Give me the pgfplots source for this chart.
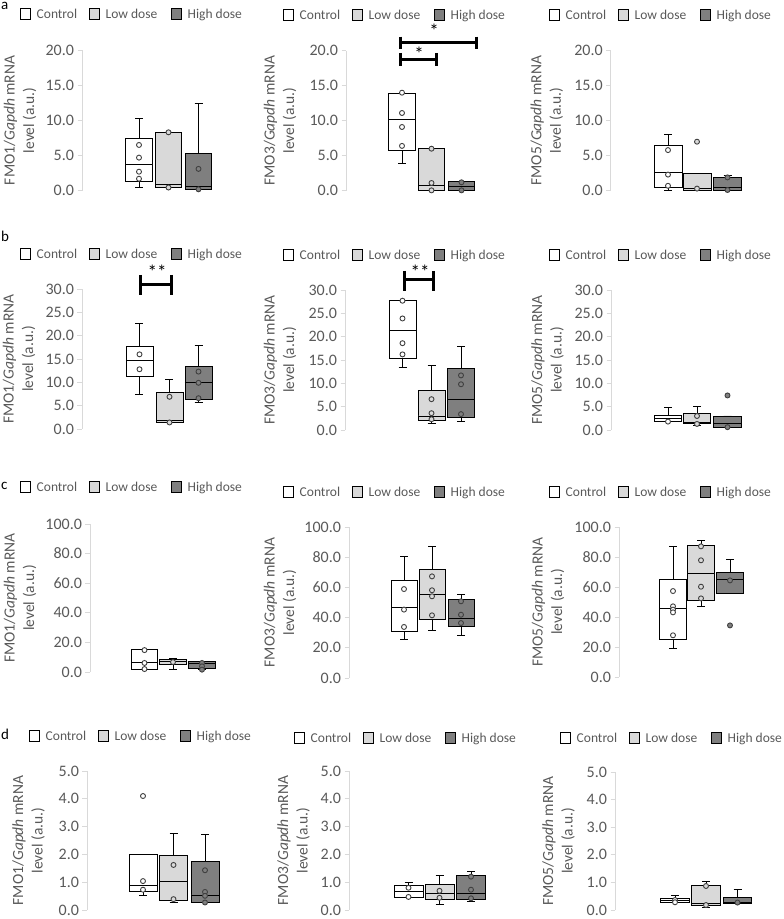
\documentclass[border=0pt]{standalone}
\usepackage{fontspec}
\setmainfont{Carlito}
\usepackage{pgfplots}
\pgfplotsset{compat=1.18}
\usepgfplotslibrary{statistics}

\definecolor{txt}{HTML}{595959}
\definecolor{axc}{HTML}{D9D9D9}
\definecolor{lowc}{HTML}{D9D9D9}
\definecolor{highc}{HTML}{7F7F7F}
\definecolor{ptc}{HTML}{404040}

\newcommand\tickfont{\fontsize{16}{18}\selectfont}
\newcommand\labfont{\fontsize{15.5}{19.5}\selectfont}
\newcommand\legfont{\fontsize{13.5}{15}\selectfont}
\newcommand\yl[1]{FMO#1/\textit{Gapdh} mRNA\\level (a.u.)}

\pgfplotsset{
 panel/.style={
  scale only axis, width=180pt, clip=false, anchor=south west,
  xmin=0, xmax=180,
  axis x line=none, axis y line*=left,
  y axis line style={-, draw=axc, line width=0.8pt},
  ytick style={draw=axc, line width=0.8pt},
  major tick length=4.5pt, tick align=outside,
  ymin=0,
  yticklabel style={font=\tickfont, text=txt},
  /pgf/number format/fixed, /pgf/number format/fixed zerofill,
  /pgf/number format/precision=1, /pgf/number format/assume math mode=true,
  ylabel style={font=\labfont, text=txt, align=center, anchor=center},
 },
 lsh/.style={ylabel style={at={([xshift=-#1pt]axis description cs:0,0.5)}}},
 ctrl/.style={draw=black, fill=white, line width=0.9pt},
 low/.style={draw=black, fill=lowc, line width=0.9pt},
 high/.style={draw=black, fill=highc, line width=0.9pt},
}

% style, position, width, lower whisker, lower quartile, median, upper quartile, upper whisker
\newcommand{\bx}[8]{\addplot[#1, boxplot/draw direction=y, boxplot prepared={draw position=#2, box extend=#3,
  lower whisker=#4, lower quartile=#5, median=#6, upper quartile=#7, upper whisker=#8,
  whisker extend=8}] coordinates {};}
\newcommand{\pts}[2]{\addplot[only marks, mark=*, mark size=2.5pt,
  mark options={draw=ptc, fill=#1, line width=0.9pt}] coordinates {#2};}

\newcommand{\leg}[2]{%
  \draw[black, line width=0.6pt, fill=white] ({#1},{#2-5.3}) rectangle ++(10.6,10.6);
  \node[anchor=base west, inner sep=0, text=txt, font=\legfont] at ({#1+16.5},{#2+4.5}) {Control};
  \draw[black, line width=0.6pt, fill=lowc] ({#1+69},{#2-5.3}) rectangle ++(10.6,10.6);
  \node[anchor=base west, inner sep=0, text=txt, font=\legfont] at ({#1+85.5},{#2+4.5}) {Low dose};
  \draw[black, line width=0.6pt, fill=highc] ({#1+151},{#2-5.3}) rectangle ++(10.6,10.6);
  \node[anchor=base west, inner sep=0, text=txt, font=\legfont] at ({#1+167.5},{#2+4.5}) {High dose};
}

\begin{document}
\begin{tikzpicture}
\path[use as bounding box] (0,0) rectangle (784pt,919pt);

% ---------------- row a ----------------
\begin{axis}[panel, at={(82pt,728.3pt)}, height=140.7pt,
  ymax=20, ytick={0,5,...,20}, ylabel={\yl{1}}, lsh=62]
\bx{ctrl}{57}{26.5}{0.4}{1.35}{3.7}{7.4}{10.3}
\bx{low}{86.5}{26.5}{0.45}{0.45}{0.9}{8.3}{8.3}
\bx{high}{116.5}{26.5}{0.2}{0.2}{0.55}{5.3}{12.4}
\pts{white}{(57,6.5)(57,4.7)(57,2.7)(57,1.7)}
\pts{lowc}{(86.5,8.3)(86.5,0.45)}
\pts{highc}{(116.5,3.1)(116.5,0.2)}
\end{axis}

\begin{axis}[panel, at={(346pt,728.3pt)}, height=140pt,
  ymax=20, ytick={0,5,...,20}, ylabel={\yl{3}}, lsh=66]
\bx{ctrl}{56}{26.5}{3.9}{5.7}{10.2}{13.9}{13.9}
\bx{low}{85.5}{26.5}{0.05}{0.05}{0.8}{6.0}{6.0}
\bx{high}{115.5}{26.5}{0.05}{0.05}{0.6}{1.25}{1.25}
\pts{white}{(56,14.0)(56,11.1)(56,9.1)(56,6.4)}
\pts{lowc}{(85.5,6.0)(85.5,1.1)(85.5,0.05)}
\pts{highc}{(115.5,1.2)(115.5,0.05)}
\end{axis}

\begin{axis}[panel, at={(610.7pt,728.3pt)}, height=140pt,
  ymax=20, ytick={0,5,...,20}, ylabel={\yl{5}}, lsh=64]
\bx{ctrl}{57.3}{28}{0.1}{0.4}{2.6}{6.5}{8.1}
\bx{low}{86.3}{28}{0.1}{0.1}{0.3}{2.5}{2.5}
\bx{high}{116.8}{28}{0.1}{0.1}{0.5}{1.9}{2.2}
\pts{white}{(57.3,5.8)(57.3,2.3)(57.3,0.7)}
\pts{lowc}{(86.3,7.0)(86.3,0.3)}
\pts{highc}{(116.8,1.9)(116.8,0.1)}
\end{axis}

% ---------------- row b ----------------
\begin{axis}[panel, at={(82pt,490pt)}, height=140pt,
  ymax=30, ytick={0,5,...,30}, ylabel={\yl{1}}, lsh=63]
\bx{ctrl}{57.5}{27}{7.4}{11.3}{14.7}{17.7}{22.6}
\bx{low}{87.5}{27}{1.4}{1.4}{1.9}{7.9}{10.7}
\bx{high}{116.5}{27}{5.6}{6.4}{10.0}{13.4}{17.9}
\pts{white}{(57.5,16.0)(57.5,12.8)}
\pts{lowc}{(87.5,6.9)(87.5,1.4)}
\pts{highc}{(116.5,12.3)(116.5,9.9)(116.5,6.6)}
\end{axis}

\begin{axis}[panel, at={(345pt,489pt)}, height=140pt,
  ymax=30, ytick={0,5,...,30}, ylabel={\yl{3}}, lsh=65]
\bx{ctrl}{57.5}{27}{13.4}{15.3}{21.3}{27.7}{27.7}
\bx{low}{86.5}{27}{1.4}{2.0}{3.0}{8.4}{13.9}
\bx{high}{116}{27}{1.9}{2.7}{6.6}{13.1}{17.9}
\pts{white}{(57.5,27.7)(57.5,23.9)(57.5,18.6)(57.5,16.2)}
\pts{lowc}{(86.5,6.6)(86.5,3.6)(86.5,2.3)}
\pts{highc}{(116,11.7)(116,9.8)(116,3.4)}
\end{axis}

\begin{axis}[panel, at={(611pt,489pt)}, height=140pt,
  ymax=30, ytick={0,5,...,30}, ylabel={\yl{5}}, lsh=63.5]
\bx{ctrl}{57}{27.5}{1.8}{1.8}{2.4}{3.2}{4.8}
\bx{low}{86}{27.5}{0.9}{1.3}{1.7}{3.6}{5.0}
\bx{high}{116.5}{27.5}{0.6}{0.6}{1.4}{3.0}{3.0}
\pts{white}{(57,1.8)}
\pts{lowc}{(86,3.0)(86,1.3)}
\pts{highc}{(116.5,7.4)(116.5,0.6)}
\end{axis}

% ---------------- row c ----------------
\begin{axis}[panel, at={(90pt,247pt)}, height=148pt,
  ymax=100, ytick={0,20,...,100}, ylabel={\yl{1}}, lsh=70]
\bx{ctrl}{54.5}{26.5}{2.0}{2.0}{6.5}{15.1}{15.1}
\bx{low}{83}{26.5}{1.6}{5.4}{7.2}{8.8}{9.4}
\bx{high}{112}{26.5}{1.6}{2.2}{5.6}{7.4}{7.4}
\pts{white}{(54.5,14.8)(54.5,6.1)(54.5,2.0)}
\pts{lowc}{(83,6.7)}
\pts{highc}{(112,6.1)(112,3.8)(112,1.6)}
\end{axis}

\begin{axis}[panel, at={(349pt,241pt)}, height=151pt,
  ymax=100, ytick={0,20,...,100}, ylabel={\yl{3}}, lsh=69]
\bx{ctrl}{55}{26}{25.8}{30.9}{46.4}{64.7}{80.6}
\bx{low}{83}{26}{31.6}{38.6}{55.6}{71.7}{86.8}
\bx{high}{112}{26}{28.0}{34.2}{39.7}{52.3}{55.6}
\pts{white}{(55,58.9)(55,45.3)(55,33.8)}
\pts{lowc}{(83,67.3)(83,58.1)(83,54.1)(83,41.5)}
\pts{highc}{(112,50.8)(112,41.9)(112,36.4)}
\end{axis}

\begin{axis}[panel, at={(619pt,242pt)}, height=150pt,
  ymax=100, ytick={0,20,...,100}, ylabel={\yl{5}}, lsh=71]
\bx{ctrl}{54}{26.5}{19.3}{25.1}{45.6}{65.1}{87.1}
\bx{low}{82}{26.5}{46.7}{50.7}{69.3}{87.8}{91.1}
\bx{high}{111}{26.5}{56.0}{56.0}{65.1}{69.8}{78.2}
\pts{white}{(54,57.3)(54,47.1)(54,44.9)(54,43.1)(54,27.8)}
\pts{lowc}{(82,87.1)(82,77.8)(82,60.2)(82,52.4)}
\pts{highc}{(111,64.4)(111,34.4)}
\end{axis}

% ---------------- row d ----------------
\begin{axis}[panel, at={(87pt,9pt)}, height=139pt,
  ymax=5, ytick={0,1,...,5}, ylabel={\yl{1}}, lsh=58.5]
\bx{ctrl}{56}{28}{0.51}{0.65}{0.87}{2.0}{2.0}
\bx{low}{86.5}{28}{0.26}{0.35}{1.04}{1.95}{2.76}
\bx{high}{118}{28}{0.26}{0.26}{0.54}{1.73}{2.73}
\pts{white}{(56,4.1)(56,1.04)(56,0.73)}
\pts{lowc}{(86.5,1.62)(86.5,0.39)}
\pts{highc}{(118,1.43)(118,0.65)(118,0.51)(118,0.27)}
\end{axis}

\begin{axis}[panel, at={(349pt,9pt)}, height=139pt,
  ymax=5, ytick={0,1,...,5}, ylabel={\yl{3}}, lsh=55.5]
\bx{ctrl}{59.5}{29}{0.46}{0.46}{0.68}{0.88}{1.0}
\bx{low}{90.5}{29}{0.19}{0.38}{0.6}{0.92}{1.24}
\bx{high}{122}{29}{0.32}{0.38}{0.6}{1.25}{1.37}
\pts{white}{(59.5,0.80)(59.5,0.47)}
\pts{lowc}{(90.5,0.69)(90.5,0.44)}
\pts{highc}{(122,1.2)(122,0.73)(122,0.42)}
\end{axis}

\begin{axis}[panel, at={(615pt,9pt)}, height=138pt,
  ymax=5, ytick={0,1,...,5}, ylabel={\yl{5}}, lsh=56.5]
\bx{ctrl}{60}{28.5}{0.26}{0.26}{0.34}{0.41}{0.52}
\bx{low}{91}{28.5}{0.1}{0.16}{0.24}{0.89}{1.03}
\bx{high}{122.5}{28.5}{0.22}{0.22}{0.29}{0.46}{0.76}
\pts{white}{(60,0.36)(60,0.28)}
\pts{lowc}{(91,0.87)(91,0.18)}
\pts{highc}{(122.5,0.27)}
\end{axis}

% ---------------- legends, letters, significance bars ----------------
\begin{scope}[yshift=919pt, x=1pt, y=-1pt]
\leg{20}{14}\leg{283}{15}\leg{549}{15}
\leg{20}{254}\leg{283}{255}\leg{549}{255}
\leg{20}{487}\leg{283}{492}\leg{549}{492}
\leg{29}{736}\leg{294}{738}\leg{560}{738}

\node[anchor=base west, inner sep=0, font=\fontsize{15}{17}\selectfont] at (1,10) {a};
\node[anchor=base west, inner sep=0, font=\fontsize{15}{17}\selectfont] at (1,242) {b};
\node[anchor=base west, inner sep=0, font=\fontsize{15}{17}\selectfont] at (1,490) {c};
\node[anchor=base west, inner sep=0, font=\fontsize{15}{17}\selectfont] at (1,740) {d};

\begin{scope}[line width=3pt, black]
\draw (400.7,42.7) -- (476.7,42.7);
\draw (400.7,36.7) -- (400.7,49.3);
\draw (476.7,36.7) -- (476.7,49.3);
\draw (400.7,60) -- (436.7,60);
\draw (400.7,53) -- (400.7,66);
\draw (436.7,53) -- (436.7,66);
\draw (140,285) -- (171,285);
\draw (140,275) -- (140,295);
\draw (171,275) -- (171,295);
\draw (404,280) -- (433,280);
\draw (404,271) -- (404,291);
\draw (433,271) -- (433,291);
\end{scope}
\node[anchor=base, inner sep=0, font=\fontsize{19}{21}\selectfont] at (434,38) {*};
\node[anchor=base, inner sep=0, font=\fontsize{19}{21}\selectfont] at (419,61) {*};
\node[anchor=base, inner sep=0, font=\fontsize{19}{21}\selectfont] at (157,279) {**};
\node[anchor=base, inner sep=0, font=\fontsize{19}{21}\selectfont] at (420,279) {**};
\end{scope}
\end{tikzpicture}
\end{document}
